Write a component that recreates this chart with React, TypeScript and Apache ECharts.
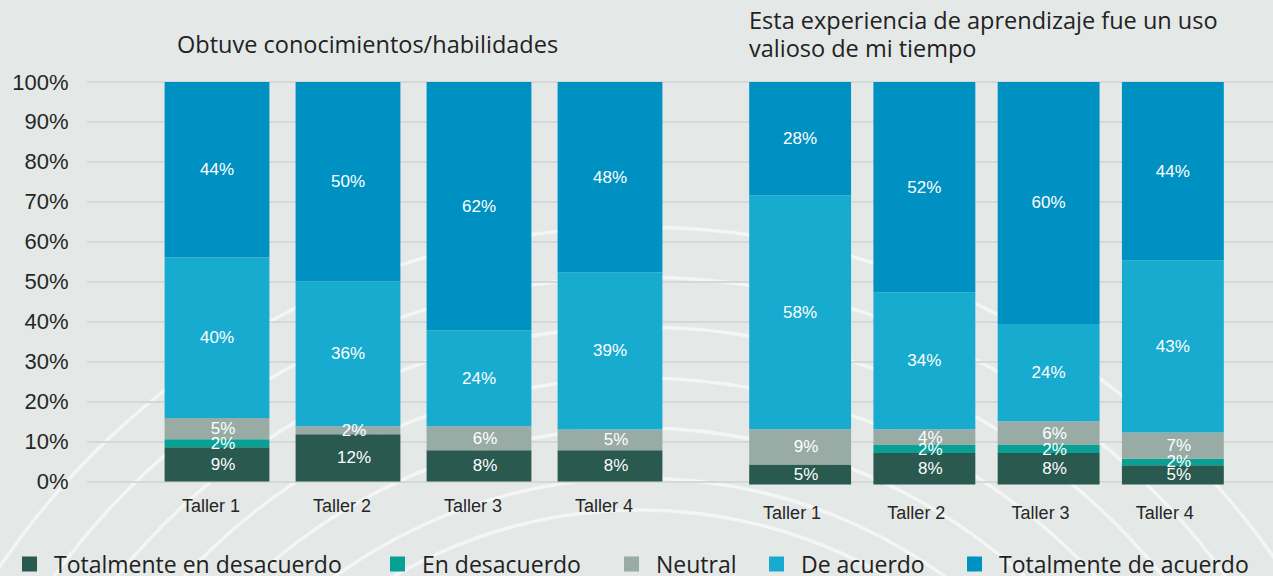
import React, { useEffect, useRef } from "react";
import * as echarts from "echarts";

const categories = ["Taller 1", "Taller 2", "Taller 3", "Taller 4"];
const seriesNames = [
  "Totalmente en desacuerdo",
  "En desacuerdo",
  "Neutral",
  "De acuerdo",
  "Totalmente de acuerdo",
];
const colors = ["#29594f", "#07a095", "#98aca5", "#17abcf", "#0091c3"];

const leftTitle = "Obtuve conocimientos/habilidades";
const rightTitle = "Esta experiencia de aprendizaje fue un uso\nvalioso de mi tiempo";

// Obtuve conocimientos/habilidades
const leftTotDes = [8.6, 11.8, 7.8, 7.8];
const leftDes = [2.0, 0, 0, 0];
const leftNeu = [5.3, 2.0, 6.0, 5.2];
const leftAcu = [40.2, 36.3, 24.0, 39.4];
const leftTotAcu = [43.9, 49.9, 62.2, 47.6];

// Esta experiencia de aprendizaje fue un uso valioso de mi tiempo
const rightTotDes = [5.0, 7.8, 7.8, 4.8];
const rightDes = [0, 2.0, 2.0, 1.6];
const rightNeu = [8.7, 3.9, 5.9, 6.5];
const rightAcu = [58.1, 34.0, 24.2, 42.8];
const rightTotAcu = [28.2, 52.3, 60.1, 44.3];

const yTicks = { min: 0, max: 100, interval: 10 };

const leftData = [leftTotDes, leftDes, leftNeu, leftAcu, leftTotAcu];
const rightData = [rightTotDes, rightDes, rightNeu, rightAcu, rightTotAcu];

const arcRadii = [490, 522, 572, 622, 673, 723, 773];

export default function App() {
  const ref = useRef<HTMLDivElement>(null);

  useEffect(() => {
    if (!ref.current) return;
    const chart = echarts.init(ref.current, null, { renderer: "svg" });

    const labelFont = "'Liberation Sans', Arial, sans-serif";
    const titleFont = "'Open Sans', 'Noto Sans', sans-serif";

    const makeSeries = (data: number[][], axisIdx: number) =>
      data.map((vals, i) => ({
        name: seriesNames[i],
        type: "bar",
        stack: "s" + axisIdx,
        xAxisIndex: axisIdx,
        yAxisIndex: axisIdx,
        barCategoryGap: axisIdx === 1 ? "20%" : "18%",
        itemStyle: { color: colors[i] },
        label: {
          show: true,
          position: "inside",
          color: "#ffffff",
          fontSize: 17,
          fontFamily: labelFont,
          offset: i < 3 ? [6, 0] : [0, 0],
          formatter: (p: any) => (p.value > 0 ? Math.round(p.value) + "%" : ""),
        },
        data: vals,
        z: 3,
      }));

    const legends = seriesNames.map((name, i) => ({
      left: [22, 390, 624, 769, 967][i],
      top: 552,
      padding: 0,
      icon: "rect",
      itemWidth: 15,
      itemHeight: 15,
      data: [name],
      textStyle: {
        fontSize: 23,
        color: "#222222",
        fontFamily: titleFont,
        lineHeight: 24,
        padding: [0, 0, 0, 12],
      },
    }));

    const option: any = {
      animation: false,
      backgroundColor: "#e4e8e7",
      graphic: arcRadii.map((r) => ({
        type: "circle",
        silent: true,
        z: -10,
        shape: { cx: 640, cy: 1000, r },
        style: { fill: "none", stroke: "rgba(255,255,255,0.6)", lineWidth: 3.5 },
      })),
      title: [
        {
          text: leftTitle,
          left: 177,
          top: 29,
          padding: 0,
          textStyle: {
            fontSize: 23.5,
            fontWeight: "normal",
            color: "#222222",
            fontFamily: titleFont,
            lineHeight: 30,
          },
        },
        {
          text: rightTitle,
          left: 749,
          top: 6,
          padding: 0,
          textStyle: {
            fontSize: 23.5,
            fontWeight: "normal",
            color: "#222222",
            fontFamily: titleFont,
            lineHeight: 28,
          },
        },
      ],
      legend: legends,
      grid: [
        { left: 87, right: 0, top: 82, bottom: 94.5 },
        { left: 151.5, width: 524, top: 82, bottom: 94.5 },
        { left: 738, width: 497, top: 82, bottom: 91.5 },
      ],
      xAxis: [
        { gridIndex: 0, type: "value", show: false, min: 0, max: 1 },
        {
          gridIndex: 1,
          type: "category",
          data: categories,
          axisLine: { show: false },
          axisTick: { show: false },
          axisLabel: {
            fontSize: 18,
            color: "#262626",
            fontFamily: labelFont,
            margin: 15,
            padding: [0, 12, 0, 0],
          },
        },
        {
          gridIndex: 2,
          type: "category",
          data: categories,
          axisLine: { show: false },
          axisTick: { show: false },
          axisLabel: {
            fontSize: 18,
            color: "#262626",
            fontFamily: labelFont,
            margin: 19,
            padding: [0, 16, 0, 0],
          },
        },
      ],
      yAxis: [
        {
          gridIndex: 0,
          type: "value",
          min: yTicks.min,
          max: yTicks.max,
          interval: yTicks.interval,
          axisLine: { show: false },
          axisTick: { show: false },
          axisLabel: {
            formatter: "{value}%",
            fontSize: 22,
            color: "#262626",
            fontFamily: labelFont,
            margin: 18.5,
          },
          splitLine: { lineStyle: { color: "#d5d8d8", width: 2 } },
        },
        { gridIndex: 1, type: "value", min: 0, max: 100, show: false, splitLine: { show: false } },
        { gridIndex: 2, type: "value", min: 0, max: 100, show: false, splitLine: { show: false } },
      ],
      series: [...makeSeries(leftData, 1), ...makeSeries(rightData, 2)],
    };

    chart.setOption(option);
    return () => chart.dispose();
  }, []);

  return (
    <div
      ref={ref}
      style={{ position: "absolute", left: 0, top: 0, width: 1273, height: 576 }}
    />
  );
}
